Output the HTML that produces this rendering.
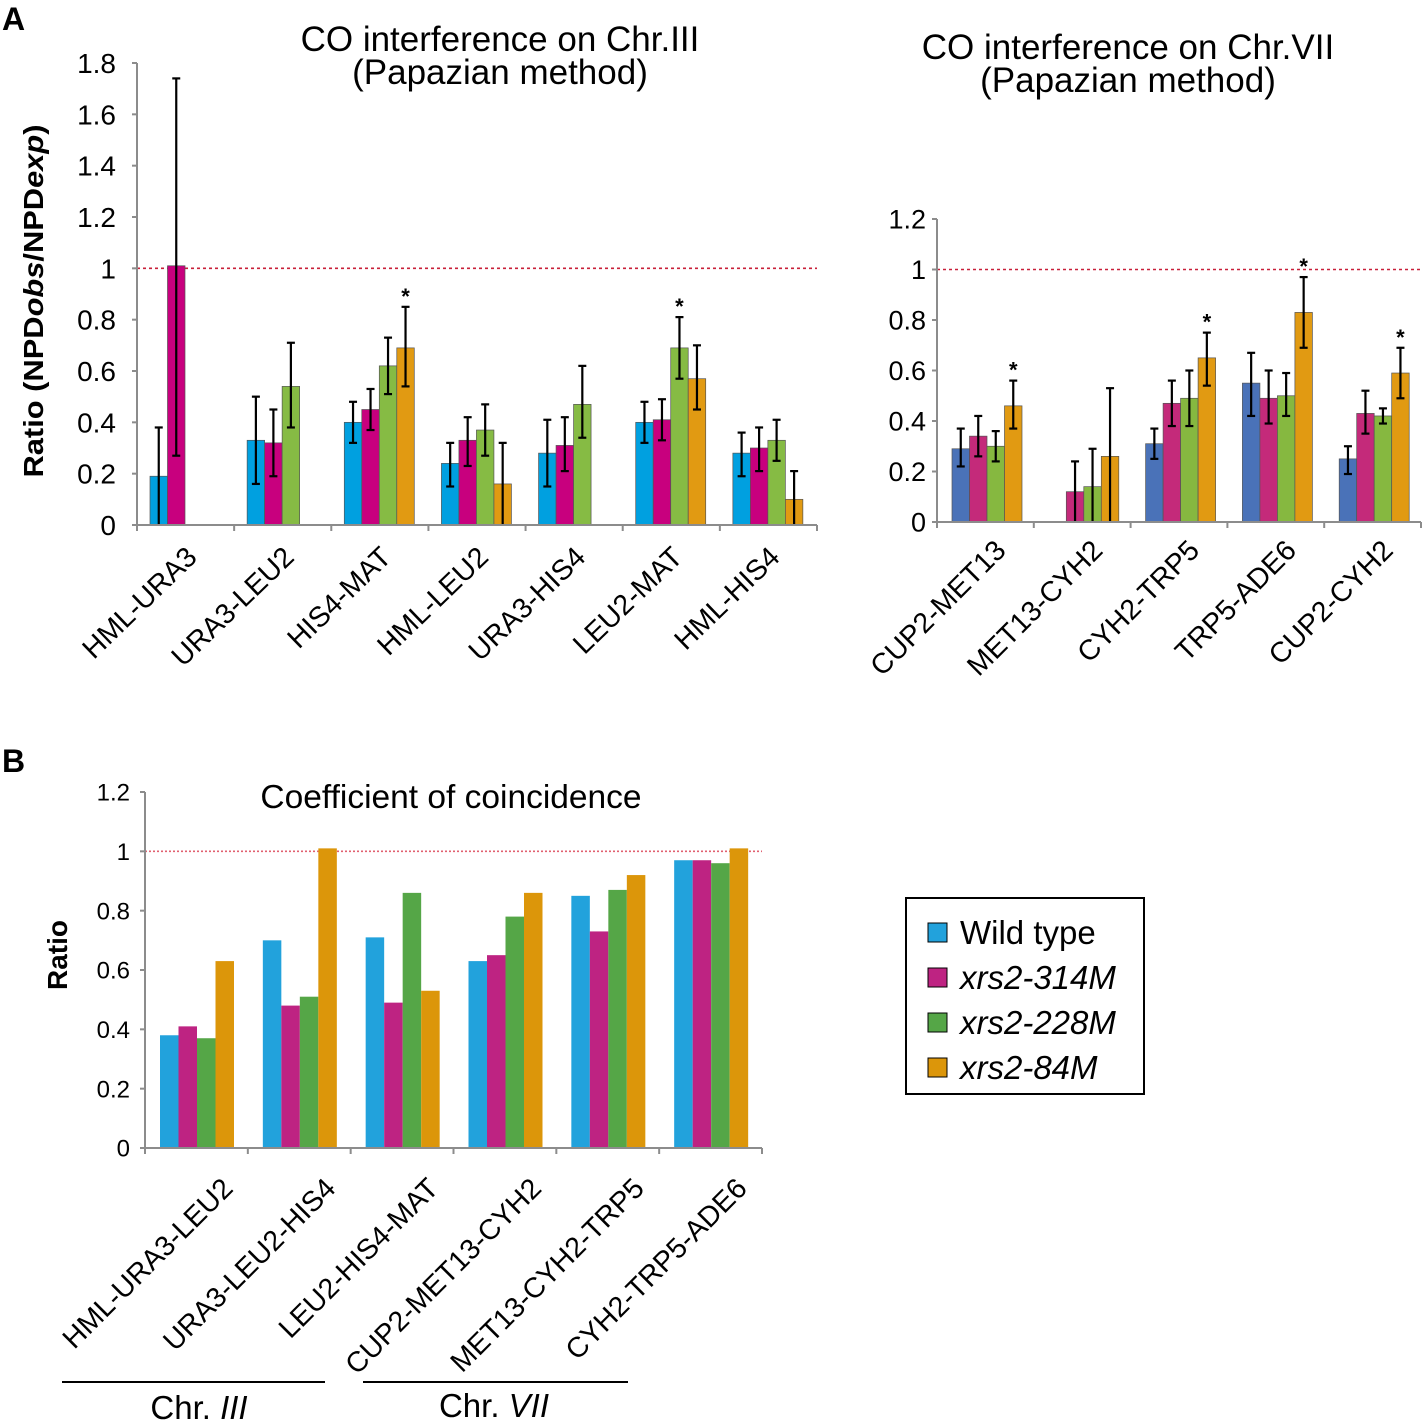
<!DOCTYPE html>
<html><head><meta charset="utf-8"><style>
html,body{margin:0;padding:0;background:#fff;}
svg{display:block;font-family:"Liberation Sans",Arial,sans-serif;}
</style></head><body>
<svg id="fig" width="1425" height="1423" viewBox="0 0 1425 1423">
<text x="2" y="30" font-size="32" font-weight="bold">A</text>
<text x="2" y="772" font-size="32" font-weight="bold">B</text>
<g id="c1">
<text x="500" y="51" font-size="35" text-anchor="middle">CO interference on Chr.III</text>
<text x="500" y="84" font-size="35" text-anchor="middle">(Papazian method)</text>
<text transform="translate(43,301) rotate(-90)" font-size="28" font-weight="bold" text-anchor="middle" textLength="353" lengthAdjust="spacingAndGlyphs">Ratio (NPD<tspan font-style="italic">obs</tspan>/NPD<tspan font-style="italic">exp</tspan>)</text>
</g>
<g id="c2">
<text x="1128" y="59" font-size="35" text-anchor="middle">CO interference on Chr.VII</text>
<text x="1128" y="92" font-size="35" text-anchor="middle">(Papazian method)</text>
</g>
<g id="c3">
<text x="451" y="808" font-size="33.5" text-anchor="middle">Coefficient of coincidence</text>
<text transform="translate(67,955) rotate(-90)" font-size="28" font-weight="bold" text-anchor="middle">Ratio</text>
<line x1="62" y1="1382" x2="325" y2="1382" stroke="#000" stroke-width="2"/>
<line x1="363" y1="1382" x2="628" y2="1382" stroke="#000" stroke-width="2"/>
<text x="199" y="1419" font-size="33" text-anchor="middle">Chr. <tspan font-style="italic">III</tspan></text>
<text x="494" y="1417" font-size="33" text-anchor="middle">Chr. <tspan font-style="italic">VII</tspan></text>
</g>
<g>
<rect x="906" y="898" width="238" height="196" fill="#fff" stroke="#000" stroke-width="2"/>
<rect x="928" y="923" width="19" height="19" fill="#22a2dc" stroke="#000" stroke-width="1"/>
<text x="960" y="944" font-size="33">Wild type</text>
<rect x="928" y="968" width="19" height="19" fill="#be2382" stroke="#000" stroke-width="1"/>
<text x="960" y="989" font-size="33" font-style="italic">xrs2-314M</text>
<rect x="928" y="1013" width="19" height="19" fill="#55a647" stroke="#000" stroke-width="1"/>
<text x="960" y="1034" font-size="33" font-style="italic">xrs2-228M</text>
<rect x="928" y="1058" width="19" height="19" fill="#dc960a" stroke="#000" stroke-width="1"/>
<text x="960" y="1079" font-size="33" font-style="italic">xrs2-84M</text>
</g>
</svg>
<script>
// ---- Chart 1: Chr.III ----
const c1Categories = ["HML-URA3","URA3-LEU2","HIS4-MAT","HML-LEU2","URA3-HIS4","LEU2-MAT","HML-HIS4"];
const c1WT   = [0.19,0.33,0.40,0.24,0.28,0.40,0.28];
const c1M314 = [1.01,0.32,0.45,0.33,0.31,0.41,0.30];
const c1M228 = [null,0.54,0.62,0.37,0.47,0.69,0.33];
const c1M84  = [null,null,0.69,0.16,null,0.57,0.10];
const c1WTerr   = [[0,0.38],[0.16,0.50],[0.32,0.48],[0.15,0.32],[0.15,0.41],[0.32,0.48],[0.19,0.36]];
const c1M314err = [[0.27,1.74],[0.19,0.45],[0.37,0.53],[0.23,0.42],[0.21,0.42],[0.33,0.49],[0.21,0.38]];
const c1M228err = [null,[0.38,0.71],[0.51,0.73],[0.27,0.47],[0.34,0.62],[0.57,0.81],[0.25,0.41]];
const c1M84err  = [null,null,[0.54,0.85],[0,0.32],null,[0.45,0.70],[0,0.21]];
const c1Stars = [[2,3],[5,2]];
const c1Ticks = [0,0.2,0.4,0.6,0.8,1,1.2,1.4,1.6,1.8];
const c1TickLabels = ["0","0.2","0.4","0.6","0.8","1","1.2","1.4","1.6","1.8"];
// ---- Chart 2: Chr.VII ----
const c2Categories = ["CUP2-MET13","MET13-CYH2","CYH2-TRP5","TRP5-ADE6","CUP2-CYH2"];
const c2WT   = [0.29,null,0.31,0.55,0.25];
const c2M314 = [0.34,0.12,0.47,0.49,0.43];
const c2M228 = [0.30,0.14,0.49,0.50,0.42];
const c2M84  = [0.46,0.26,0.65,0.83,0.59];
const c2WTerr   = [[0.22,0.37],null,[0.25,0.37],[0.42,0.67],[0.19,0.30]];
const c2M314err = [[0.26,0.42],[0,0.24],[0.38,0.56],[0.39,0.60],[0.35,0.52]];
const c2M228err = [[0.24,0.36],[0,0.29],[0.38,0.60],[0.42,0.59],[0.39,0.45]];
const c2M84err  = [[0.37,0.56],[0,0.53],[0.54,0.75],[0.69,0.97],[0.49,0.69]];
const c2Stars = [[0,3],[2,3],[3,3],[4,3]];
const c2Ticks = [0,0.2,0.4,0.6,0.8,1,1.2];
const c2TickLabels = ["0","0.2","0.4","0.6","0.8","1","1.2"];
// ---- Chart 3: Coefficient of coincidence ----
const c3Categories = ["HML-URA3-LEU2","URA3-LEU2-HIS4","LEU2-HIS4-MAT","CUP2-MET13-CYH2","MET13-CYH2-TRP5","CYH2-TRP5-ADE6"];
const c3WT   = [0.38,0.70,0.71,0.63,0.85,0.97];
const c3M314 = [0.41,0.48,0.49,0.65,0.73,0.97];
const c3M228 = [0.37,0.51,0.86,0.78,0.87,0.96];
const c3M84  = [0.63,1.01,0.53,0.86,0.92,1.01];
const c3Ticks = [0,0.2,0.4,0.6,0.8,1,1.2];
const c3TickLabels = ["0","0.2","0.4","0.6","0.8","1","1.2"];

const NS="http://www.w3.org/2000/svg";
function mk(parent,tag,attrs){const e=document.createElementNS(NS,tag);for(const k in attrs)e.setAttribute(k,attrs[k]);parent.appendChild(e);return e;}

function drawChart(o){
  const g=document.getElementById(o.id);
  const y=v=>o.y0-(v-o.vmin)*(o.y0-o.ytop)/(o.vmax-o.vmin);
  const n=o.cats.length, gw=(o.x1-o.x0)/n;
  const x=(i,s)=>o.x0+i*gw+o.off+s*o.bw;
  const rl=mk(g,'line',{x1:o.x0,x2:o.x1,y1:y(1),y2:y(1),stroke:o.refColor,'stroke-width':1.6,'stroke-dasharray':o.dash});
  
  
  o.series.forEach((ser,s)=>{
    ser.forEach((v,i)=>{
      if(v==null)return;
      const r=mk(g,'rect',{x:x(i,s),y:y(v),width:o.bw,height:o.y0-y(v),fill:o.colors[s],stroke:o.barStroke||'none','stroke-width':o.barStroke?0.7:0});
      
      
    });
  });
  if(o.errs){o.errs.forEach((ser,s)=>{ser.forEach((e,i)=>{
    if(!e)return;const cx=x(i,s)+o.bw/2;
    const eg=mk(g,'g',{stroke:'#000','stroke-width':2.2});
    
    
    mk(eg,'line',{x1:cx,x2:cx,y1:y(e[0]),y2:y(e[1])});
    mk(eg,'line',{x1:cx-4,x2:cx+4,y1:y(e[1]),y2:y(e[1])});
    if(e[0]>0)mk(eg,'line',{x1:cx-4,x2:cx+4,y1:y(e[0]),y2:y(e[0])});
  });});}
  if(o.stars){o.stars.forEach(st=>{
    const i=st[0],s=st[1];const e=o.errs[s][i];
    const t=mk(g,'text',{x:x(i,s)+o.bw/2,y:y(e[1])-3,'font-size':22,'font-weight':'bold','text-anchor':'middle'});
    t.textContent='*';
    
    
  });}
  const ax=mk(g,'g',{stroke:'#8c8c8c','stroke-width':2});
  
  
  mk(ax,'line',{x1:o.x0,x2:o.x0,y1:y(o.vmax),y2:o.y0+1});
  mk(ax,'line',{x1:o.x0-5,x2:o.x1,y1:o.y0,y2:o.y0});
  for(let i=0;i<=n;i++)mk(ax,'line',{x1:o.x0+i*gw,x2:o.x0+i*gw,y1:o.y0,y2:o.y0+6});
  o.ticks.forEach((v,k)=>{
    mk(ax,'line',{x1:o.x0-5,x2:o.x0,y1:y(v),y2:y(v)});
    const t=mk(g,'text',{x:o.tx,y:y(v)+o.tfs*0.36,'font-size':o.tfs,'text-anchor':'end'});
    t.textContent=o.tlabels[k];
    
    
  });
  o.cats.forEach((c,i)=>{
    const cx=o.x0+(i+0.5)*gw+o.lx;
    const t=mk(g,'text',{transform:`translate(${cx},${o.ly}) rotate(${o.rot})`,'font-size':o.lfs,'text-anchor':'end'});
    t.textContent=c;
    
    
  });
}
const sn=['wt','314m','228m','84m'];
drawChart({id:'c1',cats:c1Categories,series:[c1WT,c1M314,c1M228,c1M84],errs:[c1WTerr,c1M314err,c1M228err,c1M84err],stars:c1Stars,snames:sn,
  colors:['#00a0e0','#c8007e','#86bb44','#e19a12'],barStroke:'#555',x0:137,x1:817,y0:525,ytop:63,vmin:0,vmax:1.8,bw:17.5,off:13,
  ticks:c1Ticks,tlabels:c1TickLabels,tx:116,tfs:28,lx:13,ly:559,rot:-44,lfs:28.5,refColor:'#c8203a',dash:'3,3'});
drawChart({id:'c2',cats:c2Categories,series:[c2WT,c2M314,c2M228,c2M84],errs:[c2WTerr,c2M314err,c2M228err,c2M84err],stars:c2Stars,snames:sn,
  colors:['#4a72b8','#c42a7a','#86b840','#e19a12'],barStroke:'#555',x0:937,x1:1421,y0:522,ytop:219,vmin:0,vmax:1.2,bw:17.5,off:15,
  ticks:c2Ticks,tlabels:c2TickLabels,tx:926,tfs:27,lx:22,ly:552,rot:-45,lfs:28.5,refColor:'#c8203a',dash:'3,3'});
drawChart({id:'c3',cats:c3Categories,series:[c3WT,c3M314,c3M228,c3M84],errs:null,stars:null,snames:sn,
  colors:['#22a2dc','#be2382','#55a647','#dc960a'],x0:145,x1:762,y0:1148,ytop:792,vmin:0,vmax:1.2,bw:18.5,off:15,
  ticks:c3Ticks,tlabels:c3TickLabels,tx:130,tfs:24,lx:38,ly:1190,rot:-45,lfs:28.5,refColor:'#e06070',dash:'2,2'});
</script>
</body></html>
